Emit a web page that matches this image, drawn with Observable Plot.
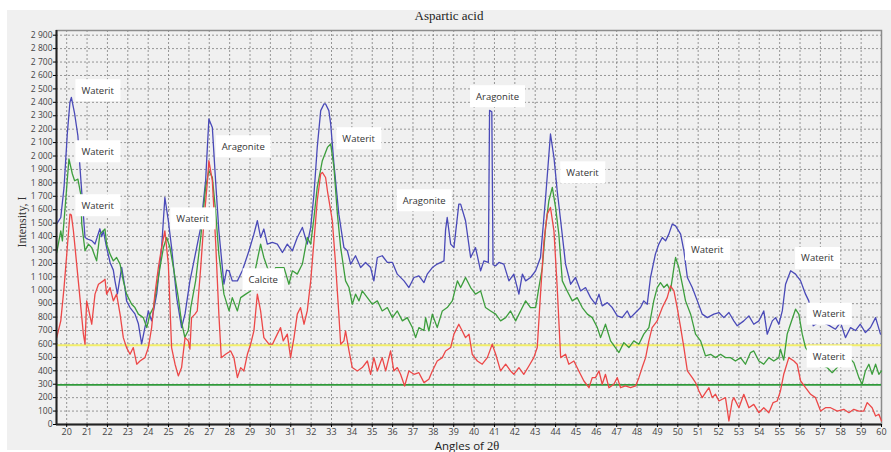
<!DOCTYPE html>
<html>
<head>
<meta charset="utf-8">
<script src="https://cdn.jsdelivr.net/npm/d3@7"></script>
<script src="https://cdn.jsdelivr.net/npm/@observablehq/plot@0.6"></script>
<style>
  body { margin: 0; background: #fff; }
  #wrap { position: relative; width: 891px; height: 452px; background: #fff; overflow: hidden; }
  #panel { position: absolute; left: 7px; top: 10px; width: 884px; height: 440px; background: #f0f0f0; }
  #chart { position: absolute; left: 0; top: 0; }
  #chart svg { background: none; overflow: visible; }
  .title { position: absolute; left: 7px; width: 884px; top: 8px; text-align: center;
           font-family: "Liberation Serif", "DejaVu Serif", serif; font-size: 13px; color: #222; }
  .xlab { position: absolute; left: 467px; top: 440px; transform: translateX(-50%); white-space: nowrap; line-height: 11px;
          font-family: "Open Sans", "Noto Sans", sans-serif; font-size: 11.5px; color: #222; }
  .xlab .th { font-family: "Liberation Serif", "DejaVu Serif", serif; font-size: 12.5px; }
  .ylab { position: absolute; left: 22px; top: 222px; transform: translate(-50%, -50%) rotate(-90deg); white-space: nowrap;
          font-family: "Liberation Serif", "DejaVu Serif", serif; font-size: 12px; color: #333; }
</style>
</head>
<body>
<div id="wrap">
  <div id="panel"></div>
  <div class="title">Aspartic acid</div>
  <div id="chart"></div>
  <div class="ylab">Intensity, I</div>
  <div class="xlab">Angles of <span class="th">2θ</span></div>
</div>
<script>
// ---- data (angle 2θ, intensity) ----
const blueSeries = [
  [19.51,1495],[19.71,1542],[19.87,1766],[20.03,2166],[20.16,2400],[20.23,2437],[20.39,2315],[20.55,2151],
  [20.64,1942],[20.77,1667],[20.90,1393],[21.05,1380],[21.23,1370],[21.39,1345],[21.47,1383],[21.63,1458],
  [21.72,1400],[21.80,1443],[21.96,1318],[22.13,1207],[22.29,1150],[22.37,1070],[22.49,973],[22.70,1170],
  [22.86,1020],[22.94,921],[23.11,871],[23.35,824],[23.52,750],[23.68,600],[23.84,722],[24.01,846],
  [24.17,772],[24.42,973],[24.66,1318],[24.82,1691],[24.99,1518],[25.15,1318],[25.40,945],[25.64,722],
  [25.81,824],[26.05,1070],[26.25,1219],[26.58,1468],[26.82,1816],[26.98,2276],[27.15,2213],[27.31,1816],
  [27.47,1443],[27.72,1045],[27.85,1150],[27.97,1145],[28.13,1070],[28.38,1070],[28.62,1145],[28.95,1294],
  [29.19,1418],[29.36,1518],[29.52,1393],[29.68,1456],[29.85,1344],[30.10,1356],[30.34,1344],[30.59,1281],
  [30.83,1344],[31.08,1294],[31.32,1393],[31.57,1468],[31.81,1344],[31.98,1468],[32.14,1717],[32.30,2064],
  [32.47,2338],[32.63,2388],[32.71,2388],[32.87,2338],[32.96,2239],[33.12,1940],[33.36,1567],[33.61,1318],
  [33.78,1294],[33.94,1195],[34.18,1257],[34.43,1169],[34.67,1207],[34.92,1169],[35.08,1070],[35.25,1244],
  [35.49,1257],[35.74,1207],[35.99,1207],[36.23,1120],[36.56,1070],[36.80,1020],[37.05,1095],[37.29,1107],
  [37.54,1057],[37.70,1120],[37.95,1169],[38.19,1195],[38.52,1219],[38.60,1450],[38.68,1542],[38.85,1344],
  [39.01,1318],[39.25,1642],[39.34,1642],[39.58,1518],[39.83,1244],[40.07,1318],[40.32,1145],[40.48,1219],
  [40.70,1207],[40.76,2340],[40.87,2330],[40.93,1190],[41.06,1182],[41.22,1207],[41.46,1195],[41.71,1070],
  [41.95,1120],[42.20,971],[42.37,1120],[42.53,1070],[42.77,1095],[43.02,1145],[43.26,1244],[43.51,1691],
  [43.75,2164],[43.92,1990],[44.08,1741],[44.25,1518],[44.49,1195],[44.74,1045],[44.98,1095],[45.23,995],
  [45.47,1020],[45.72,945],[45.96,896],[46.13,971],[46.29,884],[46.54,908],[46.78,871],[47.03,809],
  [47.27,796],[47.52,846],[47.68,796],[47.93,834],[48.17,871],[48.33,921],[48.50,896],[48.66,1095],
  [48.90,1269],[49.07,1344],[49.24,1393],[49.40,1368],[49.56,1418],[49.73,1493],[49.89,1480],[50.14,1418],
  [50.30,1294],[50.47,1095],[50.71,1020],[50.96,921],[51.20,822],[51.45,796],[51.77,822],[52.02,834],
  [52.26,796],[52.51,834],[52.75,772],[52.92,735],[53.24,772],[53.49,809],[53.73,747],[53.98,772],
  [54.22,846],[54.39,673],[54.64,772],[54.80,796],[54.96,747],[55.13,846],[55.29,1045],[55.54,1145],
  [55.78,1120],[56.03,1070],[56.27,971],[56.43,921],[56.65,735],[57.00,770],[57.40,740],[57.74,710],
  [57.99,760],[58.23,647],[58.48,722],[58.72,700],[58.96,747],[59.21,685],[59.46,722],[59.71,796],[59.95,673]
];
const greenSeries = [
  [19.51,1281],[19.71,1443],[19.79,1368],[19.95,1667],[20.11,1978],[20.28,1866],[20.39,1816],[20.55,1828],
  [20.69,1717],[20.74,1493],[20.90,1294],[21.07,1344],[21.23,1318],[21.47,1219],[21.63,1418],[21.88,1456],
  [21.96,1344],[22.13,1269],[22.29,1219],[22.45,1244],[22.62,1195],[22.78,1070],[22.94,971],[23.19,896],
  [23.35,871],[23.52,822],[23.76,796],[23.93,722],[24.09,822],[24.26,871],[24.42,1020],[24.58,1169],
  [24.75,1318],[24.91,1393],[25.07,1318],[25.24,1169],[25.48,945],[25.64,760],[25.80,650],[25.97,700],
  [26.09,871],[26.33,1070],[26.58,1393],[26.82,1766],[26.98,1890],[27.15,1841],[27.31,1592],[27.47,1269],
  [27.72,971],[27.97,846],[28.13,945],[28.38,846],[28.54,945],[28.79,971],[29.03,995],[29.28,1169],
  [29.52,1344],[29.68,1244],[29.85,1169],[30.10,1095],[30.26,1169],[30.67,1169],[30.91,1045],[31.08,1145],
  [31.32,1120],[31.57,1195],[31.81,1393],[31.98,1344],[32.14,1542],[32.30,1766],[32.55,1965],[32.80,2064],
  [32.96,2090],[33.12,1915],[33.29,1567],[33.45,1318],[33.69,1070],[33.86,1020],[34.02,896],[34.18,971],
  [34.35,921],[34.51,995],[34.76,945],[35.00,896],[35.25,921],[35.49,846],[35.74,871],[35.99,796],
  [36.23,846],[36.48,772],[36.72,796],[36.97,722],[37.13,647],[37.29,722],[37.54,700],[37.62,796],
  [37.78,697],[37.95,822],[38.19,722],[38.44,846],[38.68,871],[38.93,921],[39.18,1070],[39.34,1020],
  [39.50,1070],[39.58,1095],[39.83,1020],[40.07,971],[40.32,995],[40.56,871],[40.81,846],[41.06,822],
  [41.30,772],[41.55,796],[41.79,846],[42.04,772],[42.28,846],[42.53,921],[42.77,871],[43.02,871],
  [43.18,1020],[43.35,1169],[43.51,1468],[43.67,1667],[43.84,1766],[44.00,1617],[44.16,1418],[44.33,1070],
  [44.57,995],[44.82,921],[45.06,945],[45.31,871],[45.56,822],[45.80,796],[46.05,722],[46.21,647],
  [46.45,747],[46.70,623],[47.11,536],[47.35,610],[47.60,573],[47.84,623],[48.09,598],[48.33,673],
  [48.58,722],[48.82,921],[48.99,1020],[49.15,1057],[49.32,1020],[49.48,1045],[49.64,995],[49.81,1169],
  [49.89,1244],[50.05,1169],[50.22,1045],[50.38,921],[50.63,822],[50.87,673],[51.12,623],[51.36,511],
  [51.61,523],[51.85,498],[52.10,523],[52.34,498],[52.59,498],[52.83,473],[53.08,498],[53.32,449],
  [53.57,536],[53.73,548],[53.98,473],[54.22,449],[54.47,498],[54.71,473],[54.96,498],[55.04,561],
  [55.20,480],[55.37,673],[55.53,747],[55.78,859],[55.94,822],[56.11,673],[56.27,573],[56.52,520],
  [57.00,450],[57.33,424],[57.58,386],[57.82,424],[58.23,498],[58.48,486],[58.64,461],[58.89,349],
  [59.05,300],[59.21,399],[59.38,449],[59.54,374],[59.71,449],[59.87,374],[60.00,399]
];
const redSeries = [
  [19.51,647],[19.71,772],[19.87,1020],[20.03,1318],[20.16,1567],[20.23,1560],[20.33,1443],[20.49,1195],
  [20.65,945],[20.82,673],[20.90,598],[20.98,921],[21.09,846],[21.23,747],[21.39,971],[21.56,1045],
  [21.80,1070],[21.88,1083],[21.96,971],[22.13,1020],[22.29,921],[22.45,971],[22.62,822],[22.78,647],
  [22.94,573],[23.11,523],[23.27,573],[23.44,449],[23.60,473],[23.84,498],[24.01,573],[24.17,722],
  [24.33,971],[24.50,1169],[24.66,1318],[24.82,1443],[24.99,1195],[25.15,573],[25.32,449],[25.48,362],
  [25.64,424],[25.81,647],[25.97,623],[26.05,561],[26.13,796],[26.30,822],[26.41,846],[26.58,1169],
  [26.74,1518],[26.91,1816],[26.98,1965],[27.15,1816],[27.31,1368],[27.47,822],[27.59,498],[27.80,523],
  [28.05,548],[28.21,498],[28.38,349],[28.54,424],[28.70,399],[28.87,523],[29.03,598],[29.19,697],
  [29.36,971],[29.52,846],[29.68,647],[29.93,598],[30.10,598],[30.34,673],[30.50,722],[30.63,623],
  [30.83,673],[30.99,498],[31.16,647],[31.32,822],[31.48,871],[31.65,747],[31.81,846],[31.98,1070],
  [32.14,1368],[32.30,1667],[32.47,1866],[32.55,1878],[32.71,1840],[32.80,1741],[33.04,1518],[33.20,1195],
  [33.36,822],[33.45,598],[33.61,623],[33.69,697],[33.86,548],[34.02,424],[34.27,399],[34.51,424],
  [34.76,473],[34.92,374],[35.08,498],[35.25,399],[35.49,498],[35.66,399],[35.90,548],[36.06,399],
  [36.23,424],[36.39,374],[36.59,287],[36.80,399],[37.05,374],[37.29,386],[37.54,312],[37.78,337],
  [37.95,399],[38.19,473],[38.44,498],[38.60,548],[38.85,573],[39.01,673],[39.25,747],[39.42,697],
  [39.58,647],[39.75,673],[39.91,523],[40.16,473],[40.40,449],[40.65,498],[40.89,598],[41.06,523],
  [41.30,399],[41.55,449],[41.79,399],[41.95,374],[42.20,424],[42.44,374],[42.69,436],[42.93,498],
  [43.10,573],[43.26,971],[43.43,1368],[43.59,1567],[43.75,1617],[43.92,1443],[44.08,1020],[44.25,498],
  [44.49,523],[44.65,449],[44.90,473],[45.14,399],[45.39,324],[45.64,274],[45.80,349],[45.96,349],
  [46.13,399],[46.29,300],[46.45,374],[46.62,274],[46.86,300],[47.03,349],[47.19,274],[47.43,287],
  [47.68,274],[47.93,287],[48.09,349],[48.25,424],[48.42,498],[48.58,623],[48.74,722],[48.99,772],
  [49.24,871],[49.48,945],[49.64,1033],[49.81,995],[49.97,871],[50.14,722],[50.30,573],[50.47,399],
  [50.71,349],[50.87,312],[51.04,250],[51.20,200],[51.36,237],[51.53,274],[51.69,200],[51.85,225],
  [52.02,175],[52.18,188],[52.34,200],[52.51,26],[52.67,175],[52.75,200],[53.00,125],[53.24,225],
  [53.49,125],[53.73,150],[53.98,88],[54.22,125],[54.47,88],[54.68,163],[54.88,175],[55.04,250],
  [55.20,374],[55.45,498],[55.70,473],[55.86,449],[56.03,324],[56.27,274],[56.52,225],[56.76,200],
  [57.01,100],[57.25,125],[57.50,125],[57.83,100],[58.15,113],[58.40,88],[58.64,113],[58.89,100],
  [59.13,100],[59.30,163],[59.54,125],[59.71,63],[59.87,76],[60.00,26]
];
const referenceLevels = [590, 295];

const labelNames  = ["Waterit","Waterit","Waterit","Waterit","Aragonite","Calcite","Waterit","Aragonite","Aragonite","Waterit","Waterit","Waterit","Waterit","Waterit"];
const labelAngles = [21.52, 21.52, 21.52, 26.18, 28.67, 29.65, 34.33, 37.55, 41.15, 45.32, 51.44, 56.85, 57.42, 57.42];
const labelValues = [2487, 2032, 1630, 1532, 2069, 1078, 2129, 1667, 2442, 1875, 1302, 1237, 822, 503];

const yTicks = d3.range(0, 2901, 100);
const xTicks = d3.range(20, 61, 1);

// ---- build chart ----
const toRows = (arr) => arr.map(([a, v]) => ({a, v}));
const labels = labelNames.map((t, i) => ({t, a: labelAngles[i], v: labelValues[i]}));
const fmt = (d) => d >= 1000 ? `${Math.floor(d / 1000)} ${String(d % 1000).padStart(3, "0")}` : String(d);

const chart = Plot.plot({
  width: 891,
  height: 452,
  marginLeft: 56,
  marginRight: 10,
  marginTop: 30,
  marginBottom: 28,
  style: {background: "none", fontFamily: "'Open Sans', 'Noto Sans', sans-serif"},
  x: {domain: [19.5, 60], ticks: xTicks, tickFormat: (d) => String(d), tickSize: 3, tickPadding: 1, label: null},
  y: {domain: [0, 2935], ticks: yTicks, tickFormat: fmt, tickSize: 3, tickPadding: 1, label: null},
  marks: [
    Plot.gridX(xTicks, {stroke: "#777", strokeOpacity: 0.75, strokeDasharray: "2,2"}),
    Plot.gridY(yTicks, {stroke: "#777", strokeOpacity: 0.75, strokeDasharray: "2,2"}),
    Plot.frame({stroke: "#8c8c8c", strokeWidth: 1.5}),
    Plot.ruleY(referenceLevels.slice(0, 1), {stroke: "#f2ee6a", strokeWidth: 2}),
    Plot.ruleY(referenceLevels.slice(1), {stroke: "#2f9a3a", strokeWidth: 1.6}),
    Plot.line(toRows(blueSeries), {x: "a", y: "v", stroke: "#4a4ab8", strokeWidth: 1.3}),
    Plot.line(toRows(greenSeries), {x: "a", y: "v", stroke: "#3d9e3d", strokeWidth: 1.3}),
    Plot.line(toRows(redSeries), {x: "a", y: "v", stroke: "#ec4848", strokeWidth: 1.3}),
    Plot.ruleX([19.5], {stroke: "#222", strokeWidth: 2}),
    Plot.ruleY([0], {stroke: "#222", strokeWidth: 2}),
    Plot.axisX({ticks: xTicks, tickFormat: (d) => String(d), tickSize: 3, tickPadding: 1, fontSize: 9, fill: "#444", label: null}),
    Plot.axisY({ticks: yTicks, tickFormat: fmt, tickSize: 3, tickPadding: 1, fontSize: 8.5, fill: "#444", label: null}),
    Plot.text(labels, {x: "a", y: "v", text: "t", fontSize: 9.5, fill: "#333", className: "peaklabel"})
  ]
});

document.getElementById("chart").appendChild(chart);

// white boxes behind the peak labels
const g = chart.querySelector("g.peaklabel") || chart.querySelector('g[aria-label="text"]');
if (g) {
  g.querySelectorAll("text").forEach((t) => {
    const b = t.getBBox();
    const r = document.createElementNS("http://www.w3.org/2000/svg", "rect");
    const px = 6, py = 4.5;
    r.setAttribute("x", b.x - px);
    r.setAttribute("y", b.y - py);
    r.setAttribute("width", b.width + 2 * px);
    r.setAttribute("height", b.height + 2 * py);
    r.setAttribute("fill", "#fff");
    const tr = t.getAttribute("transform");
    if (tr) r.setAttribute("transform", tr);
    t.parentNode.insertBefore(r, t);
  });
}
</script>
</body>
</html>
